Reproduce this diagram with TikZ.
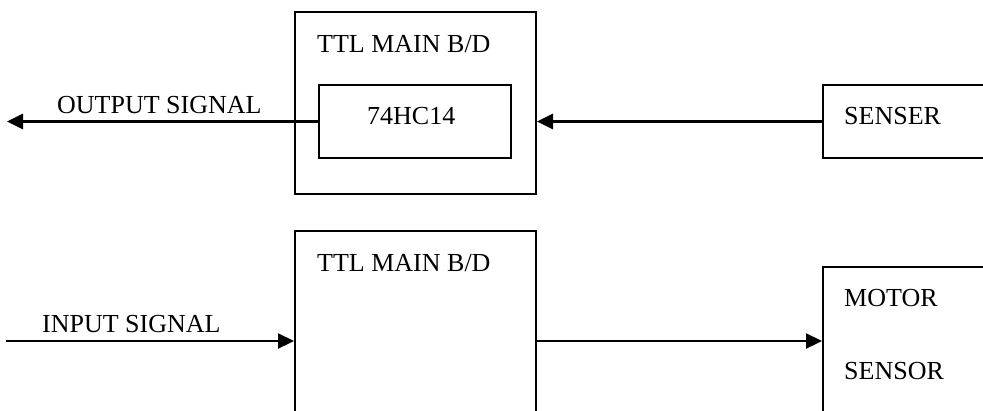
\documentclass[tikz,border=0pt]{standalone}
\usepackage{fontspec}
\setmainfont{Liberation Serif}
\usepackage{tikz}
\usetikzlibrary{arrows.meta}

\begin{document}
\begin{tikzpicture}[x=1pt,y=-1pt,
        box/.style={draw=black,line width=2pt,inner sep=0pt},
        lbl/.style={anchor=base west,inner sep=0pt,font=\fontsize{26pt}{31pt}\selectfont},
        sig/.style={line width=2.3pt,-{Triangle[length=16pt,width=15pt]}},
        sigthick/.style={sig,line width=3pt}]
    %
    \clip (0,0) rectangle (983,410);
    \fill[white] (0,0) rectangle (983,410);
    %
    % upper row
    \node[box,minimum width=241pt,minimum height=182pt] (topbd) at (415.5,103) {};
    \node[box,minimum width=192pt,minimum height=73pt] (hc) at (415,121.5) {};
    \node[box,minimum width=200pt,minimum height=73pt] (senser) at (923,121.5) {};
    \node[lbl] (toptitle) at (317,52) {TTL MAIN B/D};
    \node[lbl] (hclabel) at (367,124) {74HC14};
    \node[lbl] (outlabel) at (57,113) {OUTPUT SIGNAL};
    \node[lbl] (senserlabel) at (844,124) {SENSER};
    \coordinate (outend) at (7,121.5);
    %
    % lower row
    \node[box,minimum width=241pt,minimum height=219pt] (botbd) at (415.5,340.5) {};
    \node[box,minimum width=200pt,minimum height=183pt] (motor) at (923,358.5) {};
    \node[lbl] (bottitle) at (317,271) {TTL MAIN B/D};
    \node[lbl] (inlabel) at (42,332) {INPUT SIGNAL};
    \node[lbl] (motorlabel) at (844,306) {MOTOR};
    \node[lbl] (sensorlabel) at (844,379) {SENSOR};
    \coordinate (instart) at (6,341);
    %
    \draw[sigthick] (hc.west) -- (outend);
    \draw[sigthick] (senser.west) -- (senser.west -| topbd.east);
    \draw[sig] (instart) -- (instart -| botbd.west);
    \draw[sig] (instart -| botbd.east) -- (instart -| motor.west);
    %
\end{tikzpicture}
\end{document}
